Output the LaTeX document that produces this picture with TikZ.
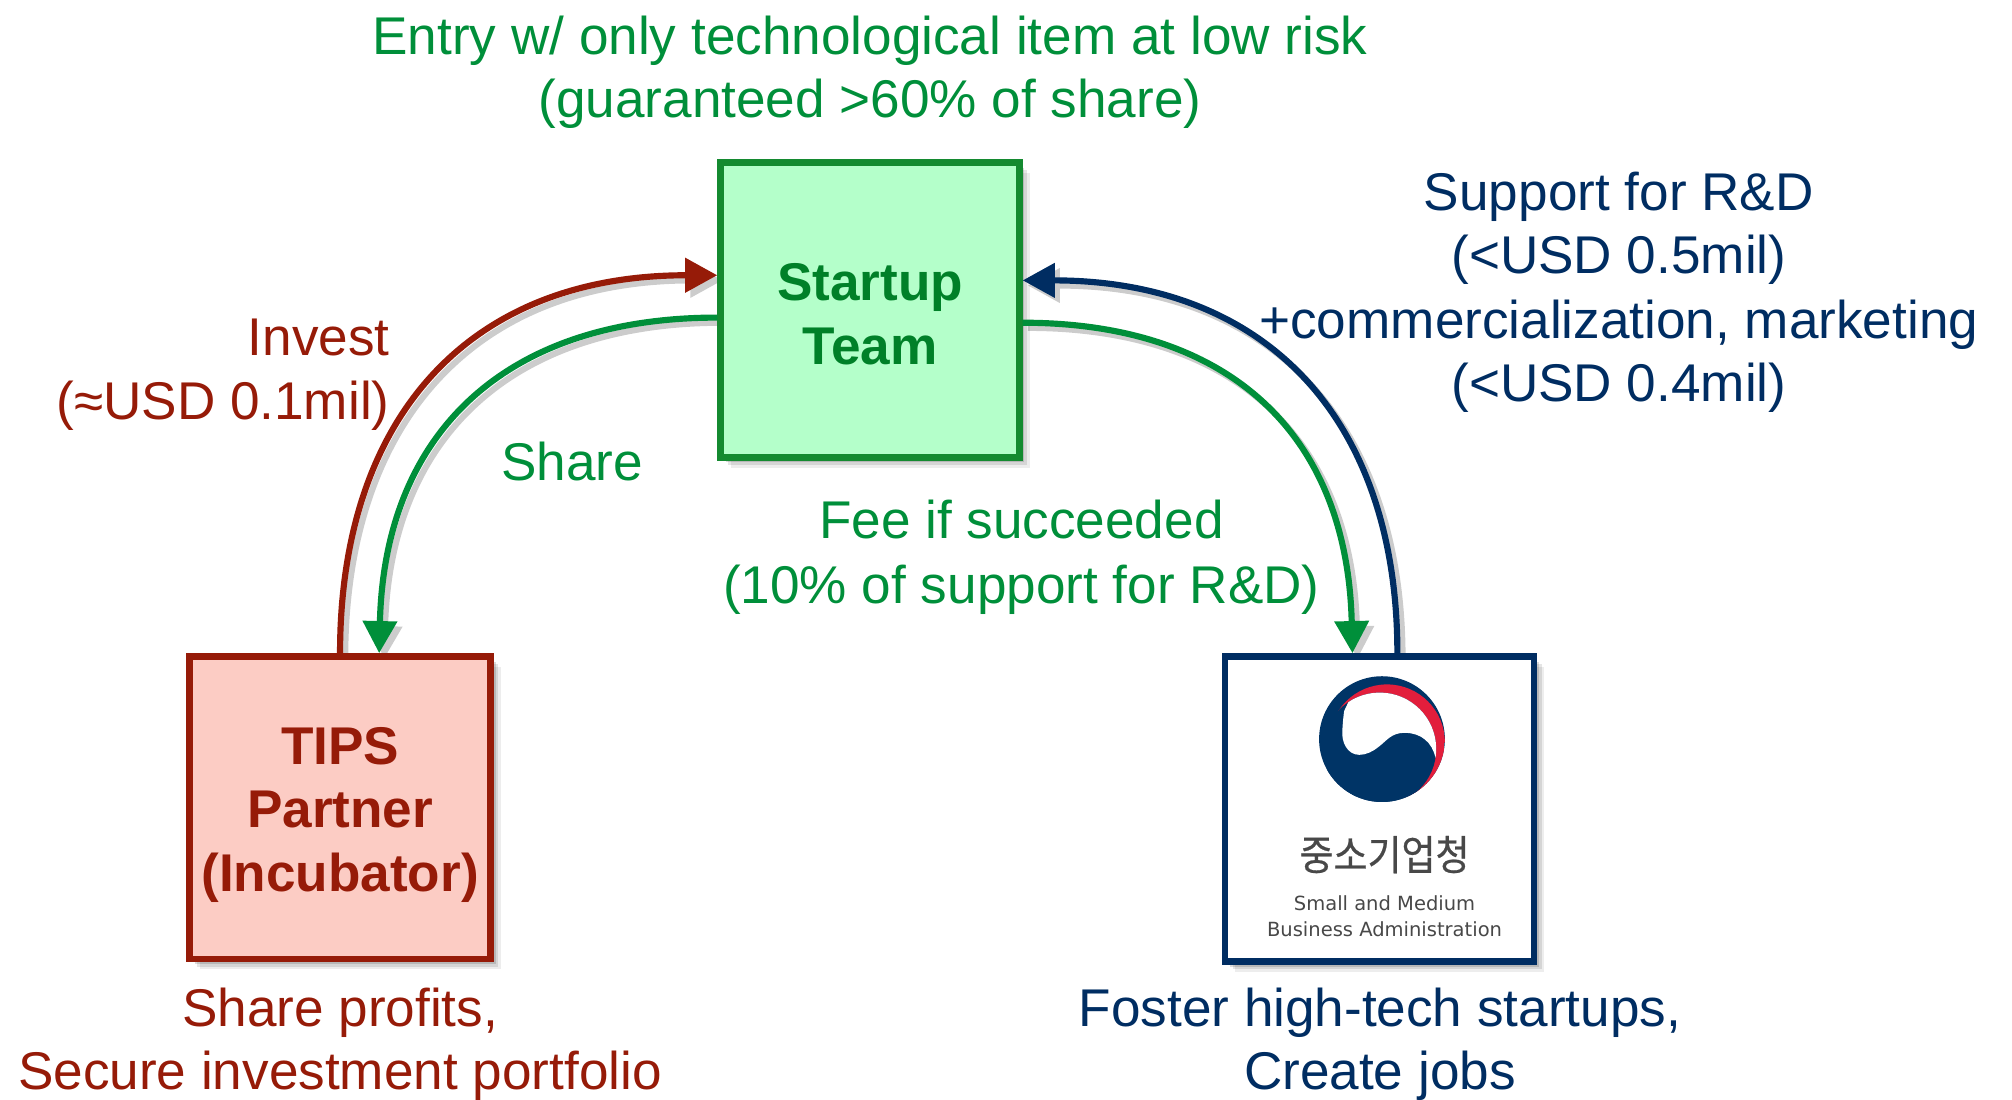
\documentclass[tikz,border=0pt]{standalone}
\usepackage{fontspec}
\setmainfont{Liberation Sans}
\newfontfamily\krfont[FakeStretch=0.9,FakeBold=0.6]{Noto Sans CJK KR}
\newfontfamily\logofont{DejaVu Sans}
\usetikzlibrary{arrows.meta,calc,shadows}
\definecolor{tgreen}{RGB}{0,143,58}
\definecolor{gborder}{RGB}{20,138,48}
\definecolor{gtext}{RGB}{0,128,40}
\definecolor{gfill}{RGB}{180,255,202}
\definecolor{tred}{RGB}{150,27,8}
\definecolor{tpink}{RGB}{252,204,196}
\definecolor{navy}{RGB}{0,45,98}
\definecolor{logored}{RGB}{226,30,60}
\definecolor{logonavy}{RGB}{0,52,102}
\definecolor{lgray}{RGB}{72,72,72}
\pgfdeclarelayer{bg}
\pgfsetlayers{bg,main}
\begin{document}
\begin{tikzpicture}[x=0.5pt,y=-0.5pt,
  lbl/.style={inner sep=0pt, anchor=base, font=\fontsize{20.7}{24.8}\selectfont},
  bshadow/.style={general shadow={shadow xshift=4pt,shadow yshift=-4pt,fill=black,opacity=.07},
                  general shadow={shadow xshift=3pt,shadow yshift=-3pt,fill=black,opacity=.10},
                  general shadow={shadow xshift=2pt,shadow yshift=-2pt,fill=black,opacity=.14}},
  boxnode/.style={draw, line width=2.6pt, inner sep=0pt, align=center, bshadow,
                  font=\fontsize{20.7}{24.8}\selectfont\bfseries},
  conn/.style={line width=2.4pt, -{Triangle[length=12.5pt,width=13pt]}},
  shline/.style={line width=2.4pt, draw=black!20, -{Triangle[length=12.5pt,width=13pt]}}
]
\path[use as bounding box] (0,0) rectangle (1568,856.6);

% boxes
\node[boxnode, draw=gborder, fill=gfill, text=gtext, minimum width=116.4pt, minimum height=114.9pt]
  (st) at (678,241.5) {\rule{0pt}{17.8pt}Startup\\Team};
\node[boxnode, draw=tred, fill=tpink, text=tred, minimum width=117.4pt, minimum height=117.9pt]
  (tips) at (265,629.5) {\rule{0pt}{19.8pt}TIPS\\Partner\\(Incubator)};
\node[boxnode, draw=navy, fill=white, minimum width=120.4pt, minimum height=118.9pt]
  (smba) at (1075,630.5) {};

% logo
\begin{scope}[shift={(1077,576)}, x=24.5pt, y=24.5pt]
  \fill[logonavy] (0,0) circle[radius=1];
  \begin{scope}
    \clip (0,0) circle[radius=1];
    \fill[logored] (0.08,-0.05) circle[radius=0.92];
    \fill[logonavy] (-0.0355,-0.1578) circle[radius=0.898];
    \clip (-0.0355,-0.1578) circle[radius=0.898];
    \fill[white] (-0.60,0.45) -- (-0.2,1.3) -- (1.3,1.1) -- (1.3,-0.3) -- (0.851,-0.3)
      .. controls (0.80,-0.05) and (0.62,0.10) .. (0.36,0.10)
      .. controls (0.15,0.10) and (0.08,-0.02) .. (-0.05,-0.12)
      .. controls (-0.15,-0.2) and (-0.25,-0.25) .. (-0.36,-0.25)
      .. controls (-0.55,-0.25) and (-0.65,-0.05) .. (-0.63,0.15)
      .. controls (-0.62,0.3) and (-0.61,0.4) .. (-0.60,0.45) -- cycle;
  \end{scope}
\end{scope}
\node[font=\krfont\fontsize{16}{18}\selectfont, text=lgray, inner sep=0pt] (kr) at (1079,666) {중소기업청};
\node[font=\logofont\fontsize{7.6}{10}\selectfont, text=lgray, anchor=base, inner sep=0pt] (sm1) at (1079,709.3) {Small and Medium};
\node[font=\logofont\fontsize{7.6}{10}\selectfont, text=lgray, anchor=base, inner sep=0pt] (sm2) at (1079,730) {Business Administration};

% labels
\node[lbl, text=tgreen] (t1) at (678,42.4) {Entry w/ only technological item at low risk};
\node[lbl, text=tgreen] (t2) at (678,91.6) {(guaranteed >60\% of share)};
\node[lbl, anchor=base east, text=tred] (inv1) at (304,276.7) {Invest};
\node[lbl, anchor=base east, text=tred] (inv2) at (304,326.7) {(≈USD 0.1mil)};
\node[lbl, text=tgreen] (shr) at (446,374.5) {Share};
\node[lbl, text=tgreen] (fee1) at (796,419.6) {Fee if succeeded};
\node[lbl, text=tgreen] (fee2) at (796,470) {(10\% of support for R\&D)};
\node[lbl, text=navy] (s1) at (1261.6,164) {Support for R\&D};
\node[lbl, text=navy] (s2) at (1261.6,213.2) {(<USD 0.5mil)};
\node[lbl, text=navy] (s3) at (1261.6,263.8) {+commercialization, marketing};
\node[lbl, text=navy] (s4) at (1261.6,313) {(<USD 0.4mil)};
\node[lbl, text=tred] (p1) at (265,799.7) {Share profits,};
\node[lbl, text=tred] (p2) at (265,848.8) {Secure investment portfolio};
\node[lbl, text=navy] (f1) at (1075.4,799.7) {Foster high-tech startups,};
\node[lbl, text=navy] (f2) at (1075.4,848.8) {Create jobs};

% connectors
\draw[conn, tred] (tips.north) .. controls +(0,-179) and +(-198,0) .. ($(st.west)+(0,-27)$);
\draw[conn, tgreen] ($(st.west)+(0,6)$) .. controls +(-168,0) and +(4,-169) .. ($(tips.north)+(30.5,0)$);
\draw[conn, navy] ($(smba.north)+(14,0)$) .. controls +(0,-179) and +(193,0) .. ($(st.east)+(0,-23)$);
\draw[conn, tgreen] ($(st.east)+(0,10)$) .. controls +(163,0) and +(-4,-169) .. ($(smba.north)+(-21,0)$);

% connector shadows
\begin{pgfonlayer}{bg}
\begin{scope}[transform canvas={shift={(2pt,-2pt)}}]
\draw[shline] (tips.north) .. controls +(0,-179) and +(-198,0) .. ($(st.west)+(0,-27)$);
\draw[shline] ($(st.west)+(0,6)$) .. controls +(-168,0) and +(4,-169) .. ($(tips.north)+(30.5,0)$);
\draw[shline] ($(smba.north)+(14,0)$) .. controls +(0,-179) and +(193,0) .. ($(st.east)+(0,-23)$);
\draw[shline] ($(st.east)+(0,10)$) .. controls +(163,0) and +(-4,-169) .. ($(smba.north)+(-21,0)$);
\end{scope}
\end{pgfonlayer}
\end{tikzpicture}
\end{document}
